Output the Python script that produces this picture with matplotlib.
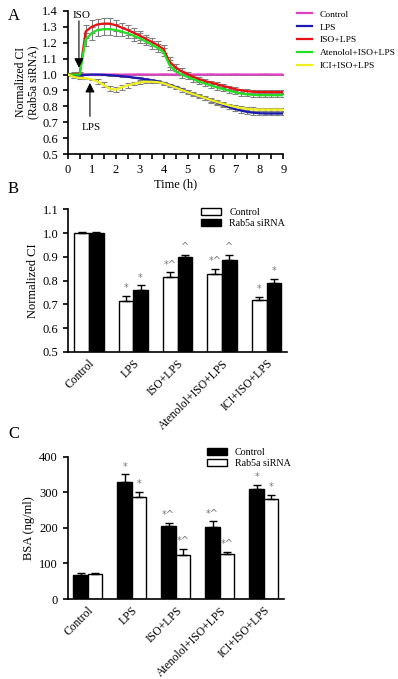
import numpy as np
import matplotlib.pyplot as plt

plt.rcParams.update({
    'font.family': ['Liberation Serif', 'DejaVu Serif'],
    'font.size': 9,
    'axes.linewidth': 1.2,
    'xtick.major.width': 1.2,
    'ytick.major.width': 1.2,
    'xtick.minor.width': 1.2,
    'xtick.major.size': 3.5,
    'xtick.minor.size': 3.5,
    'ytick.major.size': 3.5,
    'xtick.labelsize': 9,
    'ytick.labelsize': 9,
})

# ---- panel A data (time course, every 0.25 h) ----
time_h = np.arange(0, 9.01, 0.25)
ci_control = [1.000, 1.000, 1.002, 1.000, 0.998, 0.998, 1.000, 1.000, 1.000, 0.999, 1.000, 1.000, 1.001,
              1.000, 1.000, 1.000, 1.001, 1.000, 1.000, 1.000, 0.999, 1.000, 1.000, 1.000, 1.001, 1.000,
              1.000, 1.000, 1.001, 1.000, 1.000, 1.000, 1.000, 1.001, 1.000, 1.000, 1.000]
ci_lps = [1.000, 0.995, 0.995, 0.998, 1.000, 1.000, 0.998, 0.996, 0.993, 0.990, 0.986, 0.981, 0.976,
          0.970, 0.964, 0.957, 0.947, 0.935, 0.922, 0.908, 0.893, 0.878, 0.864, 0.850, 0.836, 0.822,
          0.808, 0.795, 0.783, 0.773, 0.765, 0.760, 0.757, 0.755, 0.755, 0.755, 0.755]
ci_iso = [1.000, 1.003, 1.005, 1.270, 1.300, 1.315, 1.320, 1.320, 1.310, 1.295, 1.280, 1.262, 1.245,
          1.225, 1.205, 1.185, 1.160, 1.080, 1.045, 1.020, 1.003, 0.985, 0.970, 0.958, 0.948, 0.938,
          0.928, 0.918, 0.908, 0.900, 0.895, 0.892, 0.890, 0.890, 0.890, 0.890, 0.890]
ci_aten = [1.000, 1.000, 1.000, 1.220, 1.260, 1.280, 1.285, 1.285, 1.280, 1.270, 1.258, 1.243, 1.228,
           1.208, 1.188, 1.168, 1.140, 1.060, 1.020, 1.000, 0.985, 0.970, 0.955, 0.942, 0.930, 0.918,
           0.907, 0.897, 0.888, 0.880, 0.875, 0.872, 0.870, 0.870, 0.870, 0.870, 0.870]
ci_ici = [1.000, 0.985, 0.978, 0.976, 0.970, 0.955, 0.935, 0.910, 0.905, 0.920, 0.932, 0.942, 0.950,
          0.955, 0.955, 0.952, 0.945, 0.932, 0.918, 0.904, 0.890, 0.877, 0.864, 0.851, 0.838, 0.826,
          0.815, 0.805, 0.796, 0.789, 0.784, 0.781, 0.780, 0.780, 0.780, 0.780, 0.780]
err_control = [0.003] * 37
err_lps = [0.004] * 12 + [0.008] * 12 + [0.012] * 13
err_iso = [0.01, 0.01, 0.01, 0.04, 0.04, 0.035, 0.035, 0.035, 0.035, 0.03, 0.03, 0.03, 0.03, 0.025,
           0.025, 0.025, 0.025, 0.03, 0.02, 0.02, 0.015, 0.015, 0.015, 0.012, 0.012, 0.012, 0.012,
           0.012, 0.012, 0.012, 0.012, 0.012, 0.012, 0.012, 0.012, 0.012, 0.012]
err_aten = err_iso
err_ici = [0.005] * 5 + [0.015] * 6 + [0.008] * 8 + [0.012] * 18

series_a = [('Control', ci_control, err_control, '#e040c0'),
            ('LPS', ci_lps, err_lps, '#1a1ab0'),
            ('ISO+LPS', ci_iso, err_iso, '#e81010'),
            ('Atenolol+ISO+LPS', ci_aten, err_aten, '#20e020'),
            ('ICI+ISO+LPS', ci_ici, err_ici, '#f0f020')]

# ---- panel B / C data ----
groups = ['Control', 'LPS', 'ISO+LPS', 'Atenolol+ISO+LPS', 'ICI+ISO+LPS']
b_ctrl = [1.000, 0.715, 0.817, 0.830, 0.720]
b_ctrl_err = [0.003, 0.020, 0.018, 0.020, 0.010]
b_si = [1.002, 0.762, 0.898, 0.888, 0.790]
b_si_err = [0.002, 0.018, 0.012, 0.020, 0.017]
b_ctrl_mark = ['', '*', '*^', '*^', '*']
b_si_mark = ['', '*', '^', '^', '*']

c_ctrl = [67, 328, 205, 203, 308]
c_ctrl_err = [5, 22, 10, 15, 13]
c_si = [69, 286, 125, 126, 280]
c_si_err = [5, 15, 15, 6, 13]
c_ctrl_mark = ['', '*', '*^', '*^', '*']
c_si_mark = ['', '*', '*^', '*^', '*']

fig = plt.figure(figsize=(3.98, 6.79), dpi=100)

# ================= A =================
ax = fig.add_axes([0.170, 0.773, 0.542, 0.211])
handles = []
for label, y, e, col in series_a:
    ax.errorbar(time_h, y, yerr=e, fmt='none', ecolor='#808080', elinewidth=0.8,
                capsize=2.2, capthick=0.8, zorder=2)
for label, y, e, col in series_a:
    h, = ax.plot(time_h, y, color=col, lw=1.6, label=label, zorder=3)
    handles.append(h)
ax.set_xlim(0, 9)
ax.set_ylim(0.5, 1.4)
ax.set_xticks(range(10))
ax.set_xticks(np.arange(0.5, 9, 1), minor=True)
ax.set_yticks(np.arange(0.5, 1.41, 0.1))
ax.set_yticklabels([f'{v:.1f}' for v in np.arange(0.5, 1.41, 0.1)])
for s in ['top', 'right']:
    ax.spines[s].set_visible(False)
ax.set_xlabel('Time (h)', fontsize=9, labelpad=2)
ax.set_ylabel('Normalized CI\n(Rab5a siRNA)', fontsize=8.5, labelpad=2, linespacing=1.05)
ax.annotate('', xy=(0.47, 1.025), xytext=(0.47, 1.355),
            arrowprops=dict(arrowstyle='-|>', color='black', lw=0.8, mutation_scale=14))
ax.text(0.6, 1.37, 'ISO', fontsize=8, ha='center', va='center')
ax.annotate('', xy=(0.93, 0.965), xytext=(0.93, 0.72),
            arrowprops=dict(arrowstyle='-|>', color='black', lw=0.8, mutation_scale=14))
ax.text(1.0, 0.667, 'LPS', fontsize=8, ha='center', va='center')
fig.legend(handles=handles, loc='upper left', bbox_to_anchor=(0.735, 0.992),
           frameon=False, fontsize=6.8, handlelength=1.6, handletextpad=0.8,
           labelspacing=0.45, borderpad=0)
fig.text(0.02, 0.988, 'A', fontsize=12, va='top')


def bar_panel(rect, first, first_err, second, second_err, first_col, second_col,
              first_mark, second_mark, ylim, yticks, fmt, ylabel, legend_anchor, legend_labels):
    axb = fig.add_axes(rect)
    x = np.arange(len(groups))
    w = 0.33
    axb.bar(x - w / 2, first, w, color=first_col, edgecolor='black', linewidth=1.0,
            label=legend_labels[0], zorder=2)
    axb.bar(x + w / 2, second, w, color=second_col, edgecolor='black', linewidth=1.0,
            label=legend_labels[1], zorder=2)
    axb.errorbar(x - w / 2, first, yerr=[np.zeros(len(x)), first_err], fmt='none',
                 ecolor='black', elinewidth=1.0, capsize=3, capthick=1.0, zorder=3)
    axb.errorbar(x + w / 2, second, yerr=[np.zeros(len(x)), second_err], fmt='none',
                 ecolor='black', elinewidth=1.0, capsize=3, capthick=1.0, zorder=3)
    off = (ylim[1] - ylim[0]) * 0.02
    for i in range(len(x)):
        axb.text(x[i] - w / 2, first[i] + first_err[i] + off, first_mark[i], color='#777777',
                 fontsize=7, ha='center', va='bottom', family='DejaVu Sans')
        axb.text(x[i] + w / 2, second[i] + second_err[i] + off, second_mark[i], color='#777777',
                 fontsize=7, ha='center', va='bottom', family='DejaVu Sans')
    axb.set_xlim(-0.46, 4.46)
    axb.set_ylim(*ylim)
    axb.set_yticks(yticks)
    axb.set_yticklabels([fmt.format(v) for v in yticks])
    axb.set_xticks(x)
    axb.set_xticklabels(groups, rotation=45, ha='right', rotation_mode='anchor', fontsize=8.4)
    axb.tick_params(axis='x', length=0, pad=4)
    for s in ['top', 'right']:
        axb.spines[s].set_visible(False)
    axb.set_ylabel(ylabel, fontsize=9, labelpad=3)
    axb.legend(loc='upper left', bbox_to_anchor=legend_anchor, frameon=False, fontsize=7.2,
               handlelength=2.0, handleheight=0.7, handletextpad=0.8, labelspacing=0.2,
               borderpad=0)
    return axb


bar_panel([0.172, 0.4816, 0.549, 0.210], b_ctrl, b_ctrl_err, b_si, b_si_err, 'white', 'black',
          b_ctrl_mark, b_si_mark, (0.5, 1.1), np.arange(0.5, 1.11, 0.1), '{:.1f}',
          'Normalized CI', (0.585, 1.045), ['Control', 'Rab5a siRNA'])
fig.text(0.02, 0.733, 'B', fontsize=12, va='top')

bar_panel([0.170, 0.1178, 0.544, 0.2096], c_ctrl, c_ctrl_err, c_si, c_si_err, 'black', 'white',
          c_ctrl_mark, c_si_mark, (0, 400), [0, 100, 200, 300, 400], '{:.0f}',
          'BSA (ng/ml)', (0.62, 1.095), ['Control', 'Rab5a siRNA'])
fig.text(0.02, 0.373, 'C', fontsize=12, va='top')

fig.savefig('out.png', dpi=100)
